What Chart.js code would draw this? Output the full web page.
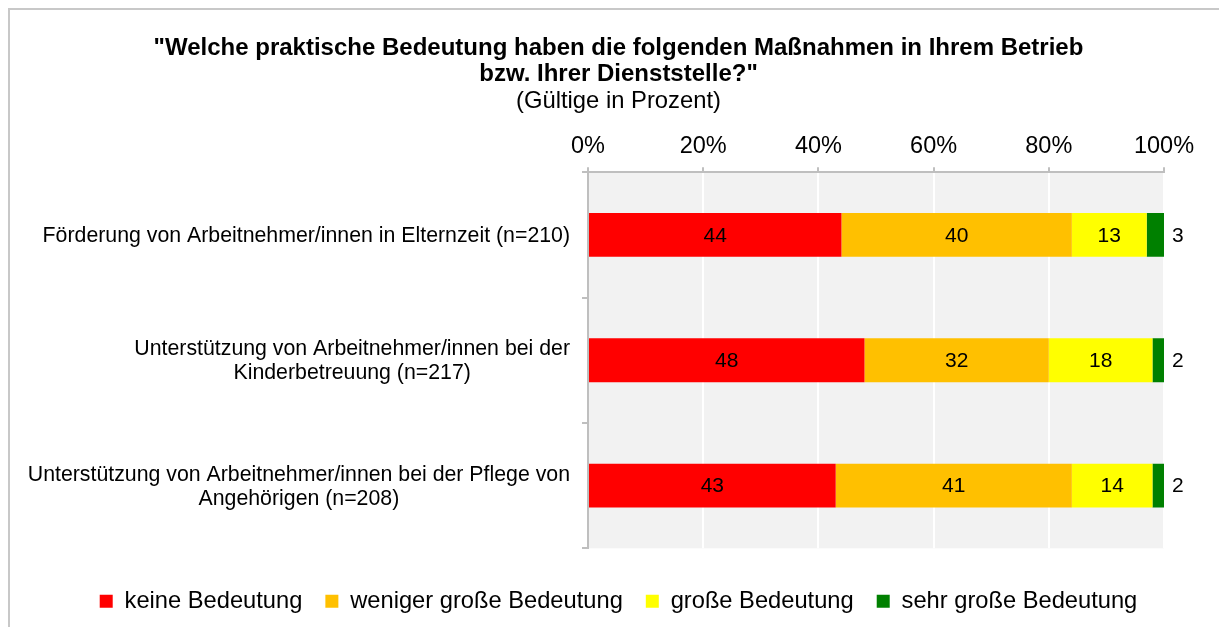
<!DOCTYPE html>
<html>
<head>
<meta charset="utf-8">
<script src="https://cdn.jsdelivr.net/npm/chart.js@4.4.0/dist/chart.umd.min.js"></script>
<style>
  html, body { margin: 0; background: #fff; overflow: hidden; }
  #wrap { position: relative; width: 1219px; height: 627px; overflow: hidden; }
  #frame { position: absolute; left: 8px; top: 8px; right: -50px; bottom: -50px; border-left: 2px solid #c8c8c8; border-top: 2px solid #c8c8c8; }
  canvas { position: absolute; left: 0; top: 0; }
</style>
</head>
<body>
<div id="wrap">
  <div id="frame"></div>
  <canvas id="grafico" width="1219" height="627"></canvas>
</div>
<script>
const categories = [
  'Förderung von Arbeitnehmer/innen in Elternzeit (n=210)',
  ['Unterstützung von Arbeitnehmer/innen bei der', 'Kinderbetreuung (n=217)'],
  ['Unterstützung von Arbeitnehmer/innen bei der Pflege von', 'Angehörigen (n=208)']
];
const seriesNames = ['keine Bedeutung', 'weniger große Bedeutung', 'große Bedeutung', 'sehr große Bedeutung'];
const keine = [44, 48, 43];
const weniger = [40, 32, 41];
const gross = [13, 18, 14];
const sehrGross = [3, 2, 2];
const colors = ['#ff0000', '#ffc000', '#ffff00', '#008000'];

const FONT = "'Liberation Sans', Arial, sans-serif";

// grauer Hintergrund, Werte und Kategorien
const helper = {
  id: 'helper',
  beforeDraw(chart) {
    const { ctx, chartArea: a } = chart;
    ctx.save();
    ctx.fillStyle = '#f2f2f2';
    ctx.fillRect(a.left, a.top, a.right - a.left, a.bottom - a.top);
    ctx.restore();
  },
  afterDatasetsDraw(chart) {
    const ctx = chart.ctx;
    ctx.save();
    ctx.font = '21px ' + FONT;
    ctx.fillStyle = '#000';
    ctx.textBaseline = 'middle';
    const last = chart.data.datasets.length - 1;
    chart.data.datasets.forEach((ds, d) => {
      chart.getDatasetMeta(d).data.forEach((bar, i) => {
        const txt = String(ds.data[i]);
        if (d === last) {
          ctx.textAlign = 'left';
          ctx.fillText(txt, bar.x + 8, bar.y + 1);
        } else {
          ctx.textAlign = 'center';
          ctx.fillText(txt, (bar.x + bar.base) / 2, bar.y + 1);
        }
      });
    });
    ctx.restore();
  },
  afterDraw(chart) {
    const ctx = chart.ctx;
    const y = chart.scales.y;
    ctx.save();
    ctx.font = '21.3px ' + FONT;
    ctx.fillStyle = '#000';
    ctx.textAlign = 'center';
    ctx.textBaseline = 'middle';
    categories.forEach((c, i) => {
      const lines = Array.isArray(c) ? c : [c];
      const w = Math.max(...lines.map(l => ctx.measureText(l).width));
      const cx = chart.chartArea.left - 18 - w / 2;
      const cy = y.getPixelForTick(i);
      lines.forEach((l, k) => {
        ctx.fillText(l, cx, cy + 1 + (k - (lines.length - 1) / 2) * 24);
      });
    });
    ctx.restore();
  }
};

const ctx = document.getElementById('grafico').getContext('2d');

new Chart(ctx, {
  type: 'bar',
  data: {
    labels: categories,
    datasets: [keine, weniger, gross, sehrGross].map((vals, i) => ({
      label: seriesNames[i],
      data: vals,
      backgroundColor: colors[i],
      borderWidth: 0,
      barPercentage: 0.35,
      categoryPercentage: 1
    }))
  },
  options: {
    indexAxis: 'y',
    responsive: false,
    animation: false,
    layout: { padding: { left: 18, right: 0, top: 0, bottom: 4 } },
    scales: {
      x: {
        position: 'top',
        stacked: true,
        min: 0,
        max: 100,
        ticks: {
          stepSize: 20,
          callback: v => v + '%',
          color: '#000',
          font: { size: 23.5, family: FONT },
          padding: 7
        },
        grid: { color: '#ffffff', lineWidth: 2, tickColor: '#bfbfbf', tickLength: 5 },
        border: { color: '#bfbfbf', width: 2 }
      },
      y: {
        stacked: true,
        ticks: { display: false },
        grid: { drawOnChartArea: false, tickColor: '#bfbfbf', tickLength: 6, lineWidth: 2 },
        border: { color: '#bfbfbf', width: 2 },
        afterFit: s => { s.width = 588 - 18; }
      },
      rechts: {
        type: 'linear',
        position: 'right',
        display: true,
        ticks: { display: false },
        grid: { display: false },
        border: { display: false },
        afterFit: s => { s.width = 1219 - 1164; }
      },
      unten: {
        type: 'linear',
        position: 'bottom',
        display: true,
        ticks: { display: false },
        grid: { display: false },
        border: { display: false },
        afterFit: s => { s.height = 18; }
      }
    },
    plugins: {
      title: {
        display: true,
        text: ['"Welche praktische Bedeutung haben die folgenden Maßnahmen in Ihrem Betrieb', 'bzw. Ihrer Dienststelle?"'],
        color: '#000',
        font: { size: 24, weight: 'bold', family: FONT, lineHeight: 1.08 },
        padding: { top: 35, bottom: 0 }
      },
      subtitle: {
        display: true,
        text: '(Gültige in Prozent)',
        color: '#000',
        font: { size: 23.8, family: FONT, lineHeight: 1.1 },
        padding: { top: 1, bottom: 11 }
      },
      legend: {
        position: 'bottom',
        labels: {
          color: '#000',
          boxWidth: 13,
          boxHeight: 13,
          padding: 23,
          font: { size: 23.7, family: FONT }
        }
      },
      tooltip: { enabled: false }
    }
  },
  plugins: [helper]
});
</script>
</body>
</html>
